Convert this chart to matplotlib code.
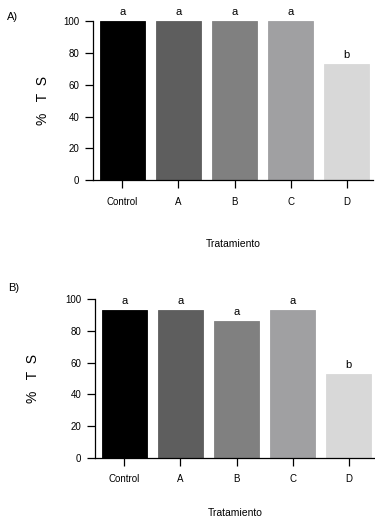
import matplotlib
matplotlib.use("Agg")
import matplotlib.pyplot as plt

categories = ["Control", "A", "B", "C", "D"]
values_a = [100, 100, 100, 100, 73]
values_b = [93, 93, 86, 93, 53]
letters_a = ["a", "a", "a", "a", "b"]
letters_b = ["a", "a", "a", "a", "b"]
colors = ["#000000", "#5e5e5e", "#808080", "#a0a0a2", "#d8d8d8"]
yticks = [0, 20, 40, 60, 80, 100]

plt.rcParams['font.family'] = ['Liberation Sans', 'DejaVu Sans']

W, H = 375, 522
fig = plt.figure(figsize=(W / 100, H / 100), dpi=100)

def px_axes(left, right, top, bottom):
    return fig.add_axes([left / W, 1 - bottom / H, (right - left) / W, (bottom - top) / H])

def draw(ax, vals, letters, panel, ylab_x, xlab_y, panel_xy):
    x = range(len(categories))
    ax.bar(x, vals, width=0.8, color=colors, edgecolor=colors, linewidth=0.6)
    for xi, v, l in zip(x, vals, letters):
        ax.annotate(l, (xi, v), xytext=(0, 3), textcoords="offset points",
                    ha="center", va="bottom", fontsize=8)
    ax.set_ylim(0, 100)
    ax.set_xlim(-0.525, 4.47)
    ax.set_yticks(yticks)
    ax.set_xticks(list(x))
    ax.set_xticklabels(categories)
    ax.spines["top"].set_visible(False)
    ax.spines["right"].set_visible(False)
    ax.spines["left"].set_linewidth(0.9)
    ax.spines["bottom"].set_linewidth(0.9)
    ax.tick_params(axis="both", labelsize=7, width=0.9, length=6, pad=6)
    ax.tick_params(axis="y", pad=4)
    ax.set_ylabel("%   T  S", fontsize=10)
    ax.yaxis.set_label_coords(ylab_x, 0.5)
    ax.set_xlabel("Tratamiento", fontsize=7.5)
    ax.xaxis.set_label_coords(0.5, xlab_y)
    fig.text(panel_xy[0] / W, 1 - panel_xy[1] / H, panel, fontsize=8, ha="left", va="center")

ax1 = px_axes(93, 373, 21.3, 180)
draw(ax1, values_a, letters_a, "A)", -0.155, -0.37, (7, 17))

ax2 = px_axes(95, 375, 299.3, 457.7)
draw(ax2, values_b, letters_b, "B)", -0.195, -0.32, (8, 288))

fig.savefig("out.png", dpi=100)
